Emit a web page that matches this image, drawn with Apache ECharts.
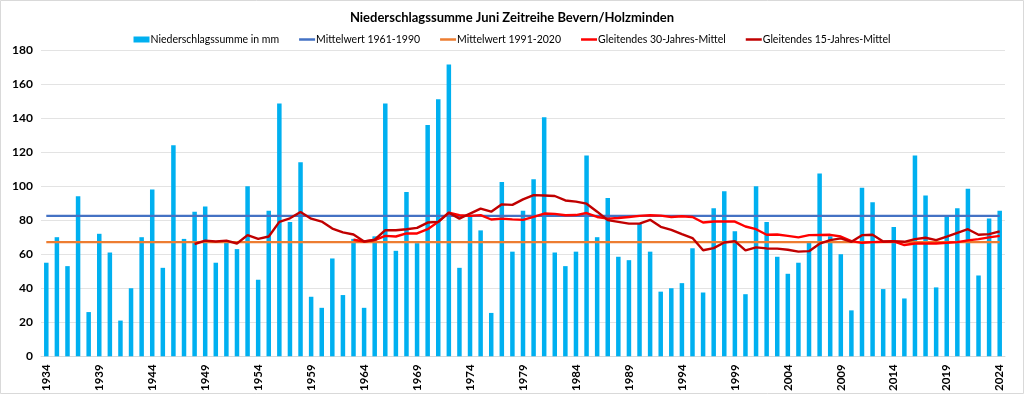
<!DOCTYPE html>
<html>
<head>
<meta charset="utf-8">
<script src="https://cdn.jsdelivr.net/npm/echarts@6/dist/echarts.min.js"></script>
<style>
html,body{margin:0;padding:0;background:#fff;}
#chart{width:1024px;height:394px;}
</style>
</head>
<body>
<div id="chart"></div>
<script>
var years = ['1934','1935','1936','1937','1938','1939','1940','1941','1942','1943','1944','1945','1946','1947','1948','1949','1950','1951','1952','1953','1954','1955','1956','1957','1958','1959','1960','1961','1962','1963','1964','1965','1966','1967','1968','1969','1970','1971','1972','1973','1974','1975','1976','1977','1978','1979','1980','1981','1982','1983','1984','1985','1986','1987','1988','1989','1990','1991','1992','1993','1994','1995','1996','1997','1998','1999','2000','2001','2002','2003','2004','2005','2006','2007','2008','2009','2010','2011','2012','2013','2014','2015','2016','2017','2018','2019','2020','2021','2022','2023','2024'];

var precip = [55,70,53,94,26,72,61,21,40,70,98,52,124,69,85,88,55,68,63,100,45,85.5,148.5,79,114,35,28.5,57.5,36,69,28.5,70.5,148.5,62,96.5,66.5,136,151,171.5,52,82.5,74,25.5,102.5,61.5,85.5,104,140.5,61,53,61.5,118,70,93,58.5,56.5,78,61.5,38,40,43,63.5,37.5,87,97,73.5,36.5,100,79,58.5,48.5,55,67,107.5,70.5,60,27,99,90.5,39.5,76,34,118,94.5,40.5,82.5,87,98.5,47.5,81,85.5];

var mean6190 = 82.5;
var mean9120 = 67.1;

var ma30 = ['-','-','-','-','-','-','-','-','-','-','-','-','-','-','-','-','-','-','-','-','-','-','-','-','-','-','-','-','-',
  68.5,67.5,68.3,70.8,70.4,72.2,72.2,74.7,79,84.4,82.9,82.5,83,80.4,80.9,80.5,80.2,81.9,83.9,83.7,82.9,83,84.2,81.9,80.9,81.3,81.9,82.5,
  82.9,82.7,81.9,82.3,81.9,78.6,79.2,79.2,79.2,76.3,74.7,71.4,71.6,70.8,69.9,71.2,71.3,71.4,70.4,67.7,66.7,67.1,67.3,67.5,65.4,66.3,66.3,66.3,66.7,67.1,68.1,68.9,69.9,70.8];

var ma15 = ['-','-','-','-','-','-','-','-','-','-','-','-','-','-',
  66,68,67.5,68,66.3,71.2,69,70.4,79,81.1,84.8,80.9,79.2,75.1,72.8,71.6,67.5,68.5,74.1,74.1,74.7,75.5,78.6,79,84.4,80.9,83.9,86.8,85,89.3,89,92.2,94.7,94.5,94.2,91.6,90.9,89.7,85,80,79,78,78,
  80.2,76.1,74.3,71.8,69.5,62.3,63.6,66.9,67.7,62.3,64,63.4,63.3,62.6,61.5,61.8,66.2,68.3,69.3,67.3,71.2,71.4,67.5,67.7,67.3,68.9,69.7,68.3,70.4,72.6,74.7,71.4,71.8,73.4];

var FONT = 'Lato, "Liberation Sans", sans-serif';
var LINE_ICON = 'path://M0,0L16,0L16,2.5L0,2.5Z';
var chart = echarts.init(document.getElementById('chart'), null, {renderer:'canvas'});
var last = years.length - 1;

chart.setOption({
  animation: false,
  backgroundColor: '#ffffff',
  textStyle: {fontFamily: FONT},
  graphic: [{
    type: 'rect', silent: true,
    shape: {x: 0.5, y: 0.5, width: 1023, height: 393},
    style: {fill: 'none', stroke: '#d9d9d9', lineWidth: 1}
  }],
  title: {
    text: 'Niederschlagssumme Juni Zeitreihe Bevern/Holzminden',
    left: 'center', top: 6,
    textStyle: {fontFamily: FONT, fontSize: 13, fontWeight: 'bold', color: '#000'}
  },
  legend: {
    top: 29, left: 'center',
    itemWidth: 16, itemHeight: 6, itemGap: 20,
    textStyle: {fontFamily: FONT, fontSize: 10.5, color: '#000', padding: [0,0,0,-4]},
    data: [
      {name: 'Niederschlagssumme in mm', icon: 'rect'},
      {name: 'Mittelwert 1961-1990', icon: LINE_ICON},
      {name: 'Mittelwert 1991-2020', icon: LINE_ICON},
      {name: 'Gleitendes 30-Jahres-Mittel', icon: LINE_ICON},
      {name: 'Gleitendes 15-Jahres-Mittel', icon: LINE_ICON}
    ]
  },
  grid: {left: 41, right: 19, top: 50, bottom: 36, containLabel: false},
  xAxis: {
    type: 'category', data: years, boundaryGap: true,
    axisLine: {show: true, lineStyle: {color: '#d9d9d9', width: 1}},
    axisTick: {show: false},
    axisLabel: {interval: 4, rotate: 90, fontFamily: FONT, fontSize: 11.5, fontWeight: 'bold', color: '#000', margin: 8}
  },
  yAxis: {
    type: 'value', min: 0, max: 180, interval: 20,
    axisLine: {show: false}, axisTick: {show: false},
    splitLine: {lineStyle: {color: '#e3e3e3', width: 1}},
    axisLabel: {fontFamily: FONT, fontSize: 12, fontWeight: 'bold', color: '#000', margin: 8}
  },
  series: [
    {name: 'Niederschlagssumme in mm', type: 'bar', data: precip, barWidth: 4.5,
     itemStyle: {color: '#00b0f0'}},
    {name: 'Mittelwert 1961-1990', type: 'line', symbol: 'none',
     data: [[years[0], mean6190], [years[last], mean6190]],
     lineStyle: {color: '#4472c4', width: 2.2}, itemStyle: {color: '#4472c4'}},
    {name: 'Mittelwert 1991-2020', type: 'line', symbol: 'none',
     data: [[years[0], mean9120], [years[last], mean9120]],
     lineStyle: {color: '#ed7d31', width: 2.2}, itemStyle: {color: '#ed7d31'}},
    {name: 'Gleitendes 30-Jahres-Mittel', type: 'line', symbol: 'none', data: ma30,
     lineStyle: {color: '#ff0000', width: 2.4}, itemStyle: {color: '#ff0000'}},
    {name: 'Gleitendes 15-Jahres-Mittel', type: 'line', symbol: 'none', data: ma15,
     lineStyle: {color: '#c00000', width: 2.4}, itemStyle: {color: '#c00000'}}
  ]
});
</script>
</body>
</html>
